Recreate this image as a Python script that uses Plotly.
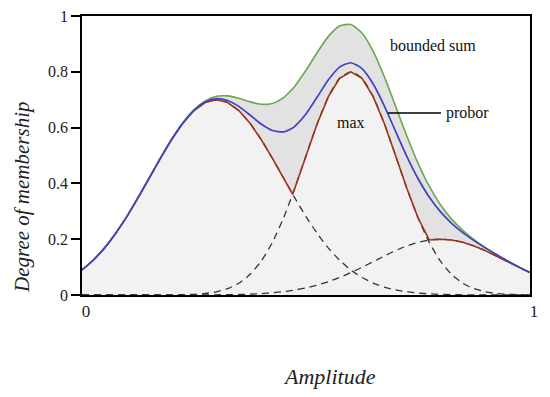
import plotly.graph_objects as go

amplitude = [0, 0.025, 0.05, 0.075, 0.1, 0.125, 0.15, 0.175, 0.2, 0.225, 0.25, 0.275, 0.3, 0.325,
             0.35, 0.375, 0.4, 0.425, 0.45, 0.47, 0.475, 0.5, 0.525, 0.55, 0.575, 0.6, 0.625, 0.65,
             0.675, 0.7, 0.725, 0.75, 0.775, 0.8, 0.825, 0.85, 0.875, 0.9, 0.925, 0.95, 0.975, 1.0]

mf_low = [0.0897, 0.1245, 0.1680, 0.2204, 0.2808, 0.3479, 0.4188, 0.4900, 0.5571, 0.6156, 0.6612,
          0.6900, 0.7000, 0.6900, 0.6612, 0.6156, 0.5571, 0.4900, 0.4188, 0.3619, 0.3479, 0.2808,
          0.2204, 0.1680, 0.1245, 0.0897, 0.0628, 0.0427, 0.0282, 0.0181, 0.0113, 0.0069, 0.0041,
          0.0023, 0.0013, 0.0007, 0.0004, 0.0002, 0.0001, 0, 0, 0]

mf_mid = [0, 0, 0, 0, 0, 0, 0.0001, 0.0002, 0.0004, 0.0011, 0.0025, 0.0055, 0.0115, 0.0226, 0.0420,
          0.0734, 0.1213, 0.1887, 0.2768, 0.3605, 0.3828, 0.4992, 0.6136, 0.7110, 0.7768, 0.8000,
          0.7768, 0.7110, 0.6136, 0.4992, 0.3828, 0.2768, 0.1887, 0.1213, 0.0734, 0.0420, 0.0226,
          0.0115, 0.0055, 0.0025, 0.0011, 0.0004]

mf_high = [0, 0, 0, 0, 0, 0, 0, 0, 0, 0.0001, 0.0002, 0.0004, 0.0007, 0.0011, 0.0019, 0.0032,
           0.0051, 0.0080, 0.0121, 0.0166, 0.0178, 0.0255, 0.0354, 0.0479, 0.0628, 0.0801, 0.0992,
           0.1195, 0.1399, 0.1591, 0.1758, 0.1889, 0.1972, 0.2000, 0.1972, 0.1889, 0.1758, 0.1591,
           0.1399, 0.1195, 0.0992, 0.0801]

agg_max = [0.0897, 0.1245, 0.1680, 0.2204, 0.2808, 0.3479, 0.4188, 0.4900, 0.5571, 0.6156, 0.6612,
           0.6900, 0.7000, 0.6900, 0.6612, 0.6156, 0.5571, 0.4900, 0.4188, 0.3619, 0.3828, 0.4992,
           0.6136, 0.7110, 0.7768, 0.8000, 0.7768, 0.7110, 0.6136, 0.4992, 0.3828, 0.2768, 0.1972,
           0.2000, 0.1972, 0.1889, 0.1758, 0.1591, 0.1399, 0.1195, 0.0992, 0.0801]

agg_probor = [0.0897, 0.1245, 0.1680, 0.2204, 0.2808, 0.3479, 0.4188, 0.4901, 0.5573, 0.6161,
              0.6621, 0.6918, 0.7037, 0.6973, 0.6760, 0.6450, 0.6128, 0.5896, 0.5848, 0.5987,
              0.6047, 0.6490, 0.7094, 0.7711, 0.8169, 0.8325, 0.8116, 0.7564, 0.6770, 0.5865,
              0.4971, 0.4175, 0.3514, 0.2987, 0.2571, 0.2235, 0.1948, 0.1689, 0.1448, 0.1217,
              0.1002, 0.0805]

agg_bsum = [0.0897, 0.1245, 0.1680, 0.2204, 0.2808, 0.3479, 0.4189, 0.4902, 0.5575, 0.6168, 0.6639,
            0.6959, 0.7122, 0.7137, 0.7051, 0.6922, 0.6835, 0.6867, 0.7077, 0.7390, 0.7485, 0.8055,
            0.8694, 0.9269, 0.9641, 0.9698, 0.9388, 0.8732, 0.7817, 0.6764, 0.5699, 0.4726, 0.3900,
            0.3236, 0.2719, 0.2316, 0.1988, 0.1708, 0.1455, 0.1220, 0.1003, 0.0805]

y_ticks = [0, 0.2, 0.4, 0.6, 0.8, 1]
y_tick_text = ["0", "0.2", "0.4", "0.6", "0.8", "1"]

SERIF = "Liberation Serif"

# page body has an 8px default margin, so the figure is offset by 8px
OFF = 8
W, H = 550 - OFF, 397 - OFF
# plot-area box in window pixels (used only to place annotations)
L, R, T, B = 82, 530, 16, 295


def px(xp):
    return (xp - L) / (R - L)


def py(yp):
    return (B - yp) / (B - T)


fig = go.Figure()

# fills
fig.add_trace(go.Scatter(x=amplitude, y=agg_bsum, mode="lines",
                         line=dict(width=0, shape="spline", smoothing=0.6),
                         fill="tozeroy", fillcolor="#e2e2e2", hoverinfo="skip", showlegend=False))
fig.add_trace(go.Scatter(x=amplitude, y=agg_max, mode="lines", line=dict(width=0),
                         fill="tozeroy", fillcolor="#f2f2f2", hoverinfo="skip", showlegend=False))

# membership functions (dashed)
for mf in (mf_low, mf_mid, mf_high):
    fig.add_trace(go.Scatter(x=amplitude, y=mf, mode="lines",
                             line=dict(color="#333333", width=1.3, dash="7px,5px",
                                       shape="spline", smoothing=0.6),
                             showlegend=False))

fig.add_trace(go.Scatter(x=amplitude, y=agg_max, mode="lines", name="max",
                         line=dict(color="#a0321a", width=1.6), showlegend=False))
fig.add_trace(go.Scatter(x=amplitude, y=agg_bsum, mode="lines", name="bounded sum",
                         line=dict(color="#6aa84f", width=1.6, shape="spline", smoothing=0.6),
                         showlegend=False))
fig.add_trace(go.Scatter(x=amplitude, y=agg_probor, mode="lines", name="probor",
                         line=dict(color="#4040c4", width=1.7, shape="spline", smoothing=0.6),
                         showlegend=False))


def ann(text, xp, yp, size, angle=0, color="#111111"):
    return dict(text=text, x=px(xp), y=py(yp), xref="paper", yref="paper", showarrow=False,
                xanchor="center", yanchor="middle", textangle=angle,
                font=dict(family=SERIF, size=size, color=color))


fig.update_layout(
    width=W, height=H,
    margin=dict(l=L - OFF, r=550 - R, t=T - OFF, b=397 - B, autoexpand=False),
    paper_bgcolor="white", plot_bgcolor="white",
    font=dict(family=SERIF, size=16, color="#222222"),
    xaxis=dict(range=[0, 1], tickvals=[0, 1], ticktext=["0", "1"], ticks="", showgrid=False,
               zeroline=False, showline=True, linecolor="black", linewidth=1.5, mirror=True,
               ticklabelshift=4, automargin=False, ticklabeloverflow="allow",
               tickfont=dict(family=SERIF, size=17, color="#222222")),
    yaxis=dict(range=[0, 1], tickvals=y_ticks, ticktext=y_tick_text, ticks="outside", ticklen=9,
               tickwidth=1.5, tickcolor="black", showgrid=False, zeroline=False, showline=True,
               linecolor="black", linewidth=1.8, mirror=True, automargin=False,
               ticklabeloverflow="allow",
               tickfont=dict(family=SERIF, size=16, color="#222222")),
    annotations=[
        ann("<i>Amplitude</i>", 329, 376, 22, color="#222222"),
        ann("<i>Degree of membership</i>", 22, 197, 21, angle=-90, color="#222222"),
        ann("bounded sum", 433, 45, 16),
        ann("probor", 467, 113, 16),
        ann("max", 351, 122, 16),
    ],
)

# pointer line for "probor"
fig.add_shape(type="line", xref="paper", yref="paper",
              x0=px(388), x1=px(441), y0=py(113), y1=py(113),
              line=dict(color="black", width=1.3))

fig.write_html("out.html")
